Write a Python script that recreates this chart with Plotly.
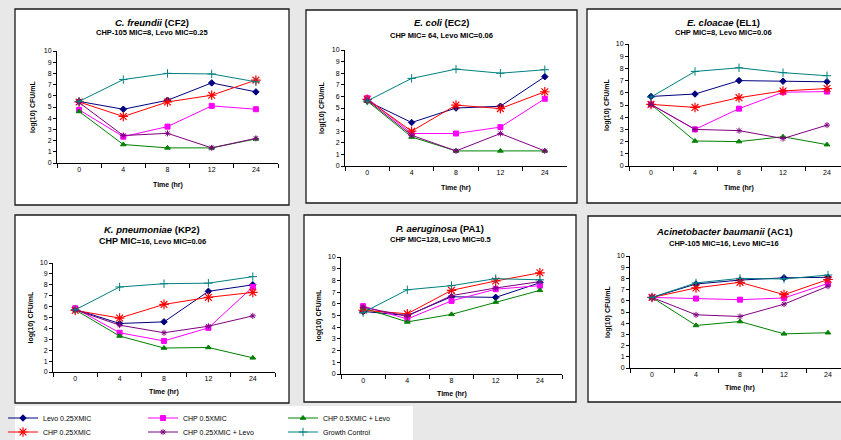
import plotly.graph_objects as go

W, H = 841, 440

times = ["0", "4", "8", "12", "24"]
series_names = ["Levo 0.25XMIC", "CHP 0.5XMIC", "CHP 0.5XMIC + Levo",
                "CHP 0.25XMIC", "CHP 0.25XMIC + Levo", "Growth Control"]

# C. freundii (CF2)
cf2_levo = [5.5, 4.8, 5.6, 7.15, 6.35]
cf2_chp05 = [4.75, 2.35, 3.25, 5.1, 4.8]
cf2_chp05_levo = [4.6, 1.65, 1.35, 1.35, 2.15]
cf2_chp025 = [5.45, 4.15, 5.45, 6.05, 7.4]
cf2_chp025_levo = [5.4, 2.45, 2.65, 1.35, 2.2]
cf2_growth = [5.5, 7.45, 8.0, 7.95, 7.25]

# E. coli (EC2)
ec2_levo = [5.6, 3.75, 5.0, 5.15, 7.7]
ec2_chp05 = [5.85, 2.8, 2.8, 3.35, 5.8]
ec2_chp05_levo = [5.6, 2.5, 1.3, 1.3, 1.3]
ec2_chp025 = [5.75, 3.0, 5.25, 4.95, 6.4]
ec2_chp025_levo = [5.7, 2.65, 1.3, 2.8, 1.3]
ec2_growth = [5.6, 7.55, 8.35, 8.0, 8.3]

# E. cloacae (EL1)
el1_levo = [5.7, 5.9, 7.0, 6.95, 6.9]
el1_chp05 = [5.05, 3.0, 4.7, 6.05, 6.1]
el1_chp05_levo = [5.05, 2.05, 2.0, 2.4, 1.75]
el1_chp025 = [5.05, 4.8, 5.6, 6.15, 6.35]
el1_chp025_levo = [5.05, 3.0, 2.9, 2.25, 3.35]
el1_growth = [5.65, 7.75, 8.05, 7.65, 7.4]

# K. pneumoniae (KP2)
kp2_levo = [5.75, 4.45, 4.6, 7.4, 8.0]
kp2_chp05 = [5.85, 3.6, 2.85, 4.05, 7.8]
kp2_chp05_levo = [5.7, 3.3, 2.2, 2.25, 1.3]
kp2_chp025 = [5.65, 4.95, 6.2, 6.85, 7.3]
kp2_chp025_levo = [5.7, 4.3, 3.6, 4.2, 5.15]
kp2_growth = [5.7, 7.8, 8.1, 8.15, 8.75]

# P. aeruginosa (PA1)
pa1_levo = [5.35, 5.0, 6.6, 6.55, 7.8]
pa1_chp05 = [5.8, 4.7, 6.25, 7.25, 7.55]
pa1_chp05_levo = [5.65, 4.45, 5.1, 6.15, 7.15]
pa1_chp025 = [5.45, 5.15, 7.15, 7.95, 8.65]
pa1_chp025_levo = [5.7, 4.95, 6.7, 7.35, 7.9]
pa1_growth = [5.25, 7.2, 7.55, 8.15, 8.05]

# Acinetobacter baumanii (AC1)
ac1_levo = [6.3, 7.5, 7.85, 8.05, 8.1]
ac1_chp05 = [6.3, 6.2, 6.1, 6.25, 7.55]
ac1_chp05_levo = [6.3, 3.8, 4.15, 3.05, 3.15]
ac1_chp025 = [6.3, 7.15, 7.65, 6.55, 7.9]
ac1_chp025_levo = [6.3, 4.75, 4.6, 5.7, 7.3]
ac1_growth = [6.3, 7.6, 8.0, 7.95, 8.3]

titles = ["<i>C. freundii</i> (CF2)", "<i>E. coli</i> (EC2)", "<i>E. cloacae</i> (EL1)",
          "<i>K. pneumoniae</i> (KP2)", "<i>P. aeruginosa</i> (PA1)",
          "<i>Acinetobacter baumanii</i> (AC1)"]
subtitles = ["CHP-105 MIC=8, Levo MIC=0.25", "CHP MIC= 64, Levo MIC=0.06",
             "CHP MIC=8, Levo MIC=0.06",
             "<span style='font-size:9px'>CHP MIC</span>=16, Levo MIC=0.06",
             "CHP MIC=128, Levo MIC=0.5", "CHP-105 MIC=16, Levo MIC=16"]

panel_data = [
    [cf2_levo, cf2_chp05, cf2_chp05_levo, cf2_chp025, cf2_chp025_levo, cf2_growth],
    [ec2_levo, ec2_chp05, ec2_chp05_levo, ec2_chp025, ec2_chp025_levo, ec2_growth],
    [el1_levo, el1_chp05, el1_chp05_levo, el1_chp025, el1_chp025_levo, el1_growth],
    [kp2_levo, kp2_chp05, kp2_chp05_levo, kp2_chp025, kp2_chp025_levo, kp2_growth],
    [pa1_levo, pa1_chp05, pa1_chp05_levo, pa1_chp025, pa1_chp025_levo, pa1_growth],
    [ac1_levo, ac1_chp05, ac1_chp05_levo, ac1_chp025, ac1_chp025_levo, ac1_growth],
]

# layout geometry (pixels)
geom = [
    dict(box=(15, 9, 289, 205), plot=(57, 278, 51, 163), ty=22, sy=33, xty=185, ytx=33),
    dict(box=(306, 10, 577, 203), plot=(345, 567, 50, 166), ty=23, sy=36, xty=188, ytx=322),
    dict(box=(587, 9, 860, 203), plot=(629, 849, 44, 166), ty=23, sy=33, xty=188, ytx=607),
    dict(box=(15, 215, 289, 403), plot=(53, 275, 263, 372), ty=229, sy=241, xty=392, ytx=30),
    dict(box=(304, 215, 576, 402), plot=(341, 562, 257, 374), ty=228, sy=239, xty=394, ytx=318),
    dict(box=(588, 216, 860, 402), plot=(630, 850, 256, 368), ty=232, sy=243, xty=388, ytx=608),
]

styles = [
    dict(color="#000080", symbol="diamond", size=5, lw=1),
    dict(color="#FF00FF", symbol="square", size=5, lw=1),
    dict(color="#008000", symbol="triangle-up", size=5, lw=1),
    dict(color="#FF0000", symbol="asterisk", size=8, lw=1.2),
    dict(color="#800080", symbol="asterisk", size=5, lw=1),
    dict(color="#008080", symbol="cross-thin", size=6, lw=1),
]

FONT = "Arial, 'Liberation Sans', sans-serif"
fig = go.Figure()
shapes = []
annotations = []

for i, (g, data) in enumerate(zip(geom, panel_data)):
    n = i + 1
    xa = "x" if n == 1 else f"x{n}"
    ya = "y" if n == 1 else f"y{n}"
    for k, (name, vals, st) in enumerate(zip(series_names, data, styles)):
        fig.add_trace(go.Scatter(
            x=times, y=vals, name=name, mode="lines+markers",
            xaxis=xa, yaxis=ya,
            line=dict(color=st["color"], width=1),
            marker=dict(symbol=st["symbol"], size=st["size"], color=st["color"],
                        line=dict(color=st["color"], width=st["lw"])),
            showlegend=(i == 0),
            legend="legend" if k in (0, 1, 2) else "legend2",
            hoverinfo="skip",
        ))
    bx0, by0, bx1, by1 = g["box"]
    shapes.append(dict(type="rect", xref="paper", yref="paper", layer="below",
                       x0=bx0 / W, x1=bx1 / W, y0=1 - by1 / H, y1=1 - by0 / H,
                       fillcolor="white", line=dict(color="#1a1a1a", width=1.3)))
    xl, xr, yt, yb = g["plot"]
    spacing = (xr - xl) / 5.0
    xr_c = min(xr, W)
    xaxis = dict(domain=[xl / W, xr_c / W], anchor=ya, type="category",
                 categoryorder="array", categoryarray=times,
                 range=[-0.5, -0.5 + (xr_c - xl) / spacing],
                 showline=True, linecolor="black", linewidth=1,
                 ticks="outside", ticklen=4, tickcolor="black", tickson="boundaries",
                 tickfont=dict(size=7, color="black", family=FONT),
                 showgrid=False, zeroline=False, fixedrange=True)
    yaxis = dict(domain=[1 - yb / H, 1 - yt / H], anchor=xa, range=[0, 10], dtick=1,
                 showline=True, linecolor="black", linewidth=1,
                 ticks="outside", ticklen=3, tickcolor="black",
                 tickfont=dict(size=7, color="black", family=FONT),
                 showgrid=False, zeroline=False, fixedrange=True)
    fig.layout["xaxis" if n == 1 else f"xaxis{n}"] = xaxis
    fig.layout["yaxis" if n == 1 else f"yaxis{n}"] = yaxis

    cx = (bx0 + bx1) / 2.0
    common = dict(xref="paper", yref="paper", showarrow=False,
                  xanchor="center", yanchor="middle")
    annotations.append(dict(text=f"<b>{titles[i]}</b>", x=cx / W, y=1 - g["ty"] / H,
                            font=dict(size=9.5, color="black", family=FONT), **common))
    annotations.append(dict(text=f"<b>{subtitles[i]}</b>", x=cx / W, y=1 - g["sy"] / H,
                            font=dict(size=7.5, color="black", family=FONT), **common))
    annotations.append(dict(text="<b>Time (hr)</b>", x=((xl + xr) / 2.0) / W,
                            y=1 - g["xty"] / H,
                            font=dict(size=7, color="black", family=FONT), **common))
    annotations.append(dict(text="<b>log(10) CFU/mL</b>", x=g["ytx"] / W,
                            y=1 - ((yt + yb) / 2.0) / H, textangle=-90,
                            font=dict(size=7, color="black", family=FONT), **common))

# legend box
shapes.append(dict(type="rect", xref="paper", yref="paper", layer="below",
                   x0=15 / W, x1=413 / W, y0=-0.01, y1=1 - 406 / H,
                   fillcolor="white", line=dict(width=0)))

leg_common = dict(orientation="h", xanchor="left", yanchor="middle",
                  entrywidth=95, entrywidthmode="pixels", itemwidth=30,
                  bgcolor="rgba(0,0,0,0)", borderwidth=0, tracegroupgap=0,
                  font=dict(size=7, color="black", family=FONT), itemclick=False,
                  itemdoubleclick=False)

fig.update_layout(
    width=W, height=H, margin=dict(l=0, r=0, t=0, b=0, autoexpand=False),
    paper_bgcolor="#e8e8e8", plot_bgcolor="rgba(0,0,0,0)",
    font=dict(family=FONT, color="black"),
    shapes=shapes, annotations=annotations,
    legend=dict(x=3 / W, y=1 - 418 / H, **leg_common),
    legend2=dict(x=3 / W, y=1 - 432 / H, **leg_common),
)

fig.write_html("out.html", config={"displayModeBar": False},
               post_script="document.body.style.margin='0';document.body.style.overflow='hidden';")
